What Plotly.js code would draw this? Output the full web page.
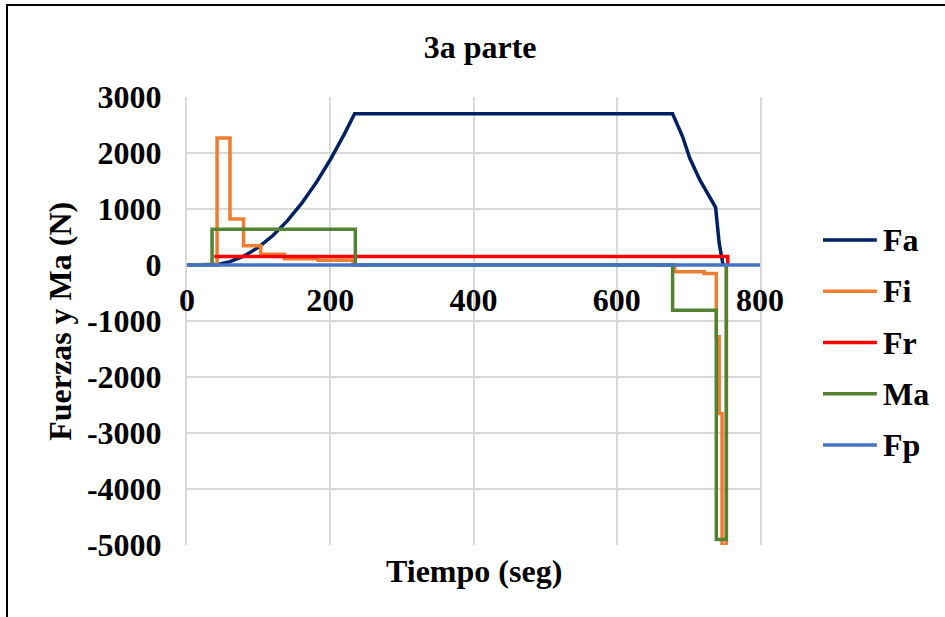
<!DOCTYPE html>
<html>
<head>
<meta charset="utf-8">
<script src="https://cdn.plot.ly/plotly-3.0.1.min.js"></script>
<style>
  html, body { margin: 0; padding: 0; background: #fff; }
  #wrap { position: relative; width: 945px; height: 617px; }
  #chart { width: 945px; height: 617px; }
  #frame { position: absolute; left: 6px; top: 4px; right: 0; bottom: 0;
           border-left: 2px solid #000; border-top: 2px solid #000; pointer-events: none; }
</style>
</head>
<body>
<div id="wrap">
  <div id="chart"></div>
  <div id="frame"></div>
</div>
<script>
// ---- Data ----
const chartTitle = '3a parte';
const xTitle = 'Tiempo (seg)';
const yTitle = 'Fuerzas y Ma (N)';

const seriesNames = ['Fa', 'Fi', 'Fr', 'Ma', 'Fp'];
const seriesColors = ['#002060', '#ED7D31', '#FF0000', '#548235', '#4472C4'];

// Fa
const faTime = [0, 30, 45, 60, 80, 100, 120, 140, 160, 180, 200, 220, 234, 678, 692, 702, 716, 738, 743, 748, 749];
const faVal  = [0, 0, 15, 59, 163, 319, 527, 787, 1099, 1463, 1879, 2347, 2700, 2700, 2290, 1905, 1520, 1030, 390, 30, 0];

// Fi
const fiTime = [0, 42, 42, 60, 60, 79, 79, 103, 103, 136, 136, 183, 183, 232, 232, 681, 681, 722, 722, 739, 739, 743, 743, 747, 747, 753, 753];
const fiVal  = [0, 0, 2270, 2270, 820, 820, 345, 345, 190, 190, 112, 112, 84, 84, 0, 0, -120, -120, -150, -150, -1280, -1280, -2650, -2650, -5000, -5000, 0];

// Fr
const frTime = [38, 755, 755];
const frVal  = [150, 150, 0];

// Ma
const maTime = [0, 35, 35, 235, 235, 678, 678, 739, 739, 753, 753];
const maVal  = [0, 0, 640, 640, 0, 0, -810, -810, -4900, -4900, 0];

// Fp
const fpTime = [0, 800];
const fpVal  = [0, 0];

const xTicks = [0, 200, 400, 600, 800];
const yTicks = [3000, 2000, 1000, 0, -1000, -2000, -3000, -4000, -5000];

// ---- Chart ----
const FONT = "'Liberation Serif', 'Times New Roman', 'DejaVu Serif', serif";
const FS = 32;
const times = [faTime, fiTime, frTime, maTime, fpTime];
const vals = [faVal, fiVal, frVal, maVal, fpVal];

const traces = seriesNames.map((n, i) => ({
  type: 'scatter', mode: 'lines', name: n,
  x: times[i], y: vals[i],
  line: { color: seriesColors[i], width: 3.5 },
  showlegend: false, hoverinfo: 'skip'
}));

const shapes = [];
const annotations = [
  { text: xTitle, xref: 'paper', yref: 'paper', x: 0.5, y: -0.058, xanchor: 'center', yanchor: 'middle',
    showarrow: false, font: { family: FONT, size: FS, color: '#000', weight: 700 } },
  { text: yTitle, xref: 'paper', yref: 'paper', x: -0.222, y: 0.5, xanchor: 'center', yanchor: 'middle',
    textangle: -90, showarrow: false, font: { family: FONT, size: FS, color: '#000', weight: 700 } }
];
// manual legend
seriesNames.forEach((n, i) => {
  const yp = 0.681 - i * 0.1145;
  shapes.push({ type: 'line', xref: 'paper', yref: 'paper', x0: 1.110, x1: 1.204, y0: yp, y1: yp,
    line: { color: seriesColors[i], width: 3.5 } });
  annotations.push({ text: n, xref: 'paper', yref: 'paper', x: 1.212, y: yp, xanchor: 'left', yanchor: 'middle',
    showarrow: false, font: { family: FONT, size: FS, color: '#000', weight: 700 } });
});

const layout = {
  width: 945, height: 617,
  margin: { l: 187, r: 185, t: 97, b: 72 },
  paper_bgcolor: '#fff', plot_bgcolor: '#fff',
  font: { family: FONT, color: '#000', size: FS, weight: 700 },
  title: { text: chartTitle, x: 0.508, xref: 'container', xanchor: 'center', y: 0.924, yref: 'container', yanchor: 'middle',
           font: { family: FONT, size: FS, color: '#000', weight: 700 } },
  xaxis: {
    range: [0, 800], tickvals: xTicks, ticktext: xTicks.map(String),
    anchor: 'free', position: 0.625,
    showgrid: true, gridcolor: '#d9d9d9', gridwidth: 2,
    zeroline: false, showline: false, ticks: '',
    ticklabelstandoff: 13,
    tickfont: { family: FONT, size: FS, color: '#000', weight: 700 }
  },
  yaxis: {
    range: [-5000, 3000], tickvals: yTicks, ticktext: yTicks.map(String),
    showgrid: true, gridcolor: '#d9d9d9', gridwidth: 2,
    zeroline: false, showline: true, linecolor: '#d9d9d9', linewidth: 2, mirror: true, ticks: '',
    ticklabelstandoff: 17,
    tickfont: { family: FONT, size: FS, color: '#000', weight: 700 }
  },
  shapes: shapes,
  annotations: annotations
};

Plotly.newPlot('chart', traces, layout, { displayModeBar: false, staticPlot: true });
</script>
</body>
</html>
